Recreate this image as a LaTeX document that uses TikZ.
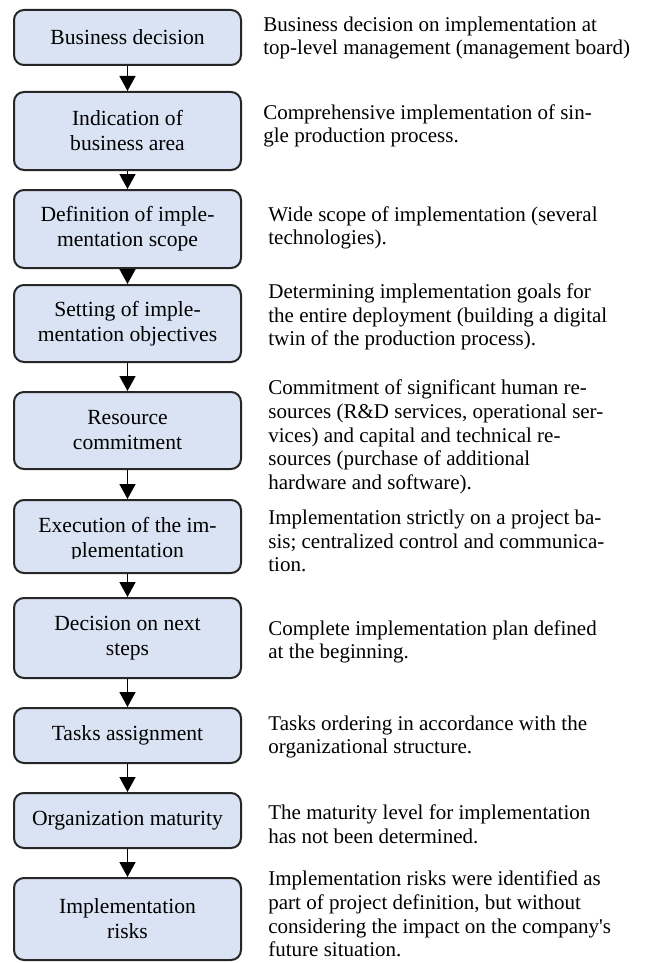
\documentclass[tikz,border=0pt]{standalone}
\usepackage{fontspec}
\setmainfont{Liberation Serif}
\usetikzlibrary{arrows.meta}

\definecolor{stagefill}{RGB}{218,227,243}
\tikzset{
	stage/.style={draw=black!85, line width=1pt, fill=stagefill, rounded corners=5pt,
		minimum width=113.5pt, align=center, inner sep=2pt, font=\fontsize{10.8}{12.5}\selectfont},
	note/.style={anchor=west, align=left, inner sep=0pt, font=\fontsize{10.5}{11.8}\selectfont},
	flow/.style={line width=0.8pt, -{Triangle[width=8pt, length=7.5pt]}}
}

\begin{document}
\begin{tikzpicture}[x=0.5pt, y=-0.5pt]
		\useasboundingbox (0, 0) rectangle (652, 963);
		% stages
		\node[stage, minimum height=27.5pt] (decision) at (127.5, 37.5) {Business decision};
		\node[stage, minimum height=39pt] (area) at (127.5, 131) {Indication of\\business area};
		\node[stage, minimum height=39pt] (scope) at (127.5, 229) {Definition of imple-\\mentation scope};
		\node[stage, minimum height=38.5pt] (objectives) at (127.5, 323.5) {Setting of imple-\\mentation objectives};
		\node[stage, minimum height=38.5pt] (resources) at (127.5, 430.5) {Resource\\commitment};
		\node[stage, minimum height=36.5pt] (execution) at (127.5, 536.5) {};
		\begin{scope}
			\clip (14, 500) rectangle (241, 558);
			\node[align=center, font=\fontsize{10.8}{12.5}\selectfont] (executiontext) at (127.5, 540) {Execution of the im-\\plementation};
		\end{scope}
		\node[stage, minimum height=40pt] (steps) at (127.5, 638) {Decision on next\\steps};
		\node[stage, minimum height=27.5pt] (tasks) at (127.5, 735.5) {Tasks assignment};
		\node[stage, minimum height=27.5pt] (maturity) at (127.5, 820.5) {Organization maturity};
		\node[stage, minimum height=41pt] (risks) at (127.5, 919) {Implementation\\risks};
		\foreach \a/\b in {decision/area, area/scope, scope/objectives, objectives/resources,
			resources/execution, execution/steps, steps/tasks, tasks/maturity, maturity/risks}
			\draw[flow] (\a.south) -- (\b.north);
		% notes
		\node[note] (decisionnote) at (263, 38) {Business decision on implementation at\\top-level management (management board)};
		\node[note] (areanote) at (263, 126) {Comprehensive implementation of sin-\\gle production process.};
		\node[note] (scopenote) at (268, 228) {Wide scope of implementation (several\\technologies).};
		\node[note] (objectivesnote) at (268, 317) {Determining implementation goals for\\the entire deployment (building a digital\\twin of the production process).};
		\node[note] (resourcesnote) at (268, 437) {Commitment of significant human re-\\sources (R\&D services, operational ser-\\vices) and capital and technical re-\\sources (purchase of additional\\hardware and software).};
		\node[note] (executionnote) at (268, 541) {Implementation strictly on a project ba-\\sis; centralized control and communica-\\tion.};
		\node[note] (stepsnote) at (268, 642) {Complete implementation plan defined\\at the beginning.};
		\node[note] (tasksnote) at (268, 737) {Tasks ordering in accordance with the\\organizational structure.};
		\node[note] (maturitynote) at (268, 824) {The maturity level for implementation\\has not been determined.};
		\node[note] (risksnote) at (268, 914) {Implementation risks were identified as\\part of project definition, but without\\considering the impact on the company\textquotesingle s\\future situation.};
	\end{tikzpicture}
\end{document}
